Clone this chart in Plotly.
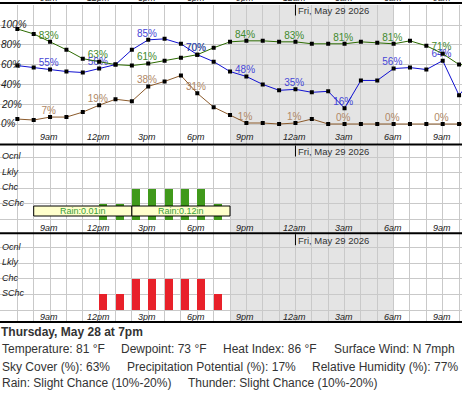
import plotly.graph_objects as go

W, H = 462, 394

# ---------------- data ----------------
hours = list(range(7, 36))  # hour of Thursday (24 = midnight Fri)
sky_cover = [59, 57, 55, 53, 52, 56, 60, 75, 85, 86, 81, 70, 63, 53, 48,
             40, 34, 35, 32, 33, 16, 44, 44, 56, 57, 55, 64, 29, 49]
rel_humidity = [96, 91, 83, 75, 66, 63, 60, 59, 61, 64, 67, 70, 77, 83, 84,
                84, 83, 83, 81, 81, 81, 83, 82, 81, 84, 79, 71, 60, 60]
precip_potential = [5, 4, 7, 7, 12, 19, 25, 23, 38, 43, 49, 31, 17, 9, 1,
                    1, 0, 1, 5, 0, 0, 0, 0, 0, 0, 0, 0, 0, 0]
label_hours = [9, 12, 15, 18, 21, 24, 27, 30, 33]

pct_ticks = [0, 20, 40, 60, 80, 100]
level_names = ["SChc", "Chc", "Lkly", "Ocnl"]
level_vals = [1, 2, 3, 4]

rain_hours = [12, 13, 14, 15, 16, 17, 18, 19]
rain_levels = [1, 1, 2, 2, 2, 2, 2, 1]
thunder_hours = [12, 13, 14, 15, 16, 17, 18, 19]
thunder_levels = [1, 1, 2, 2, 2, 2, 2, 1]
rain_periods = [(8, 14, "Rain:0.01in"), (14, 20, "Rain:0.12in")]

tick_hours = [9, 12, 15, 18, 21, 24, 27, 30, 33]
tick_labels = ["9am", "12pm", "3pm", "6pm", "9pm", "12am", "3am", "6am", "9am"]
night_start, night_end = 20, 30
date_hour = 24
date_label = "Fri, May 29 2026"

header = "Thursday, May 28 at 7pm"
info_lines = [
    [(1, "Temperature: 81 °F"), (120, "Dewpoint: 73 °F"), (222, "Heat Index: 86 °F"), (333, "Surface Wind: N 7mph")],
    [(1, "Sky Cover (%): 63%"), (126, "Precipitation Potential (%): 17%"), (311, "Relative Humidity (%): 77%")],
    [(1, "Rain: Slight Chance (10%-20%)"), (187, "Thunder: Slight Chance (10%-20%)")],
]

# ---------------- styling ----------------
FONT = "Liberation Sans, Arial, sans-serif"
GRID = "#c9c9c9"
NIGHT = "#e4e4e4"
X_RANGE = [5.94, 34.18]

def py(p):
    return 1 - p / H

# panels: (top px, bottom px, px of value 0, px per unit)
panels = [(4.5, 143.5, 124.0, 0.99), (145.5, 232.5, 219.3, 15.5), (234.2, 321.5, 310.0, 15.6)]

fig = go.Figure()

series = [
    (rel_humidity, "#2c6a00", "#3f8a2c"),
    (sky_cover, "#1010d0", "#4646d6"),
    (precip_potential, "#8b5a2b", "#b08866"),
]

# labels (drawn first so lines go over them)
for vals, lc, tc in series:
    lx = [h - 0.08 for h in label_hours]
    ly = [vals[hours.index(h)] + 5.8 for h in label_hours]
    lt = [f"{vals[hours.index(h)]}%" for h in label_hours]
    fig.add_trace(go.Scatter(x=lx, y=ly, text=lt, mode="text", textposition="middle center",
                             textfont=dict(family=FONT, size=10, color=tc),
                             xaxis="x", yaxis="y", showlegend=False, hoverinfo="skip"))
for vals, lc, tc in series:
    fig.add_trace(go.Scatter(x=hours, y=vals, mode="lines+markers",
                             line=dict(color=lc, width=1),
                             marker=dict(symbol="square", size=4, color="black", line=dict(width=0)),
                             xaxis="x", yaxis="y", showlegend=False, hoverinfo="skip"))

fig.add_trace(go.Bar(x=[h + 0.25 for h in rain_hours], y=rain_levels, width=0.5,
                     marker=dict(color="#40991b", line=dict(width=0)),
                     xaxis="x2", yaxis="y2", showlegend=False, hoverinfo="skip"))
fig.add_trace(go.Bar(x=[h + 0.25 for h in thunder_hours], y=thunder_levels, width=0.5,
                     marker=dict(color="#e8212a", line=dict(width=0)),
                     xaxis="x3", yaxis="y3", showlegend=False, hoverinfo="skip"))

layout = dict(width=W, height=H, margin=dict(l=0, r=0, t=0, b=0),
              paper_bgcolor="white", plot_bgcolor="white", bargap=0,
              font=dict(family=FONT), showlegend=False)

shapes = []
annotations = []
ytickvals = [pct_ticks, [0] + level_vals, [0] + level_vals]
for i, (top, bot, p0, ppu) in enumerate(panels):
    sfx = "" if i == 0 else str(i + 1)
    rng = [(p0 - bot) / ppu, (p0 - top) / ppu]
    layout["xaxis" + sfx] = dict(range=X_RANGE, anchor="y" + sfx, showgrid=True, gridcolor=GRID,
                                 gridwidth=1, tick0=0, dtick=1, showticklabels=False,
                                 zeroline=False, showline=False, ticks="", fixedrange=True)
    layout["yaxis" + sfx] = dict(range=rng, domain=[py(bot), py(top)], anchor="x" + sfx,
                                 showgrid=True, gridcolor=GRID, gridwidth=1,
                                 tickmode="array", tickvals=ytickvals[i], showticklabels=False,
                                 zeroline=False, showline=False, ticks="", fixedrange=True)
    # night shading
    shapes.append(dict(type="rect", xref="x" + sfx, yref="y" + sfx, x0=night_start, x1=night_end,
                       y0=rng[0], y1=rng[1], fillcolor=NIGHT, line=dict(width=0), layer="below"))
    # date marker
    shapes.append(dict(type="line", xref="x" + sfx, yref="paper", x0=date_hour, x1=date_hour,
                       y0=py(top + 11), y1=py(top), line=dict(color="black", width=1)))
    annotations.append(dict(xref="x" + sfx, yref="paper", x=date_hour, y=py(top + 6.3),
                            xanchor="left", yanchor="middle", xshift=1, showarrow=False,
                            text=date_label, font=dict(family=FONT, size=9.5, color="#333")))

# hour labels
for yc in [-2.5, 136.8, 227.8, 317.0]:
    for h, t in zip(tick_hours, tick_labels):
        annotations.append(dict(xref="x", yref="paper", x=h, y=py(yc), xanchor="center",
                                yanchor="middle", xshift=-1, showarrow=False, text=t,
                                font=dict(family=FONT, size=9, color="#222", style="italic")))

# percent labels
for v in pct_ticks:
    annotations.append(dict(xref="paper", yref="y", x=0, y=v, xanchor="left", yanchor="middle",
                            xshift=-1, showarrow=False, text=f"{v}%",
                            font=dict(family=FONT, size=10, color="#222", style="italic")))
# level labels
for sfx in ["2", "3"]:
    for v, n in zip(level_vals, level_names):
        annotations.append(dict(xref="paper", yref="y" + sfx, x=0, y=v, xanchor="left",
                                yanchor="middle", yshift=1, showarrow=False, text=n,
                                font=dict(family=FONT, size=9, color="#222", style="italic")))

# rain amount boxes
box_lo, box_hi = (219.3 - 216) / 15.5, (219.3 - 206) / 15.5
for x0, x1, t in rain_periods:
    shapes.append(dict(type="rect", xref="x2", yref="y2", x0=x0, x1=x1, y0=box_lo, y1=box_hi,
                       fillcolor="#ffffcc", line=dict(color="black", width=1), layer="above"))
    annotations.append(dict(xref="x2", yref="y2", x=(x0 + x1) / 2, y=(box_lo + box_hi) / 2,
                            showarrow=False, text=t, yanchor="middle",
                            font=dict(family=FONT, size=9, color="#3aa03a")))

# black separator lines
for p in [3.0, 144.5, 233.2, 322.0]:
    shapes.append(dict(type="line", xref="paper", yref="paper", x0=0, x1=1, y0=py(p), y1=py(p),
                       line=dict(color="black", width=2)))

# text block below
annotations.append(dict(xref="paper", yref="paper", x=0, y=py(331.7), xanchor="left",
                        yanchor="middle", xshift=-1, showarrow=False, text=f"<b>{header}</b>",
                        font=dict(family=FONT, size=12, color="#333")))
for yc, line in zip([349.0, 366.5, 383.0], info_lines):
    for xp, t in line:
        annotations.append(dict(xref="paper", yref="paper", x=xp / W, y=py(yc), xanchor="left",
                                yanchor="middle", xshift=-1, showarrow=False, text=t,
                                font=dict(family=FONT, size=12, color="#333")))

layout["shapes"] = shapes
layout["annotations"] = annotations
fig.update_layout(**layout)
fig.write_html("out.html")
